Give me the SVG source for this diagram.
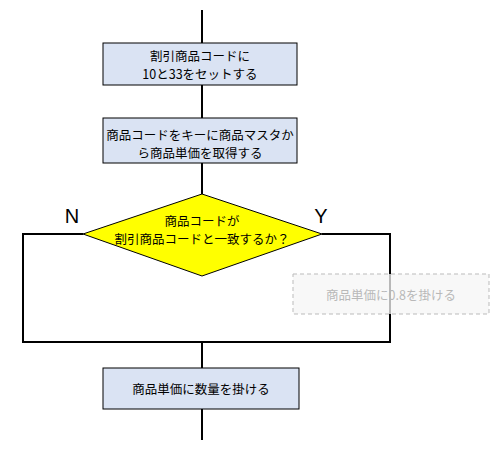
<svg xmlns="http://www.w3.org/2000/svg" width="497" height="449" viewBox="0 0 497 449">
<style>
.box{fill:#dae3f3;stroke:#000;stroke-width:1}
.t{font-family:"Noto Sans CJK JP","Noto Sans",sans-serif;font-size:12.5px;fill:#000;text-anchor:middle}
.ln{stroke:#000;stroke-width:2;fill:none}
.lbl{font-family:"Liberation Sans",Arial,sans-serif;font-size:20px;fill:#000;text-anchor:middle}
</style>
<rect width="497" height="449" fill="#fff"/>
<g id="connectors">
<line class="ln" x1="202" y1="10" x2="202" y2="43"/>
<line class="ln" x1="202" y1="85" x2="202" y2="118"/>
<line class="ln" x1="202" y1="163" x2="202" y2="194"/>
<polyline class="ln" points="83,234 23,234 23,342 390,342 390,234 322,234"/>
<line class="ln" x1="202" y1="342" x2="202" y2="368"/>
<line class="ln" x1="202" y1="409" x2="202" y2="440"/>
</g>
<g id="n1">
<rect class="box" x="103" y="43" width="194" height="42"/>
<text class="t" x="200" y="61">割引商品コードに</text>
<text class="t" x="200" y="79">10と33をセットする</text>
</g>
<g id="n2">
<rect class="box" x="103" y="118" width="194" height="45"/>
<text class="t" x="200" y="140">商品コードをキーに商品マスタか</text>
<text class="t" x="200" y="158">ら商品単価を取得する</text>
</g>
<g id="n3">
<polygon points="202,194 322,234 202,276 83,234" fill="#ffff00" stroke="#000" stroke-width="1"/>
<text class="t" x="202" y="226">商品コードが</text>
<text class="t" x="202" y="244">割引商品コードと一致するか？</text>
</g>
<text class="lbl" x="72" y="223">N</text>
<text class="lbl" x="321" y="223">Y</text>
<g id="n4">
<rect x="293" y="274" width="196" height="40" fill="#f6f6f6" fill-opacity="0.75" stroke="#bbb" stroke-width="1" stroke-dasharray="4,3"/>
<text class="t" x="391" y="300" style="fill:#b8b8b8">商品単価に0.8を掛ける</text>
</g>
<g id="n5">
<rect class="box" x="103" y="368" width="196" height="41"/>
<text class="t" x="201" y="394">商品単価に数量を掛ける</text>
</g>
</svg>
